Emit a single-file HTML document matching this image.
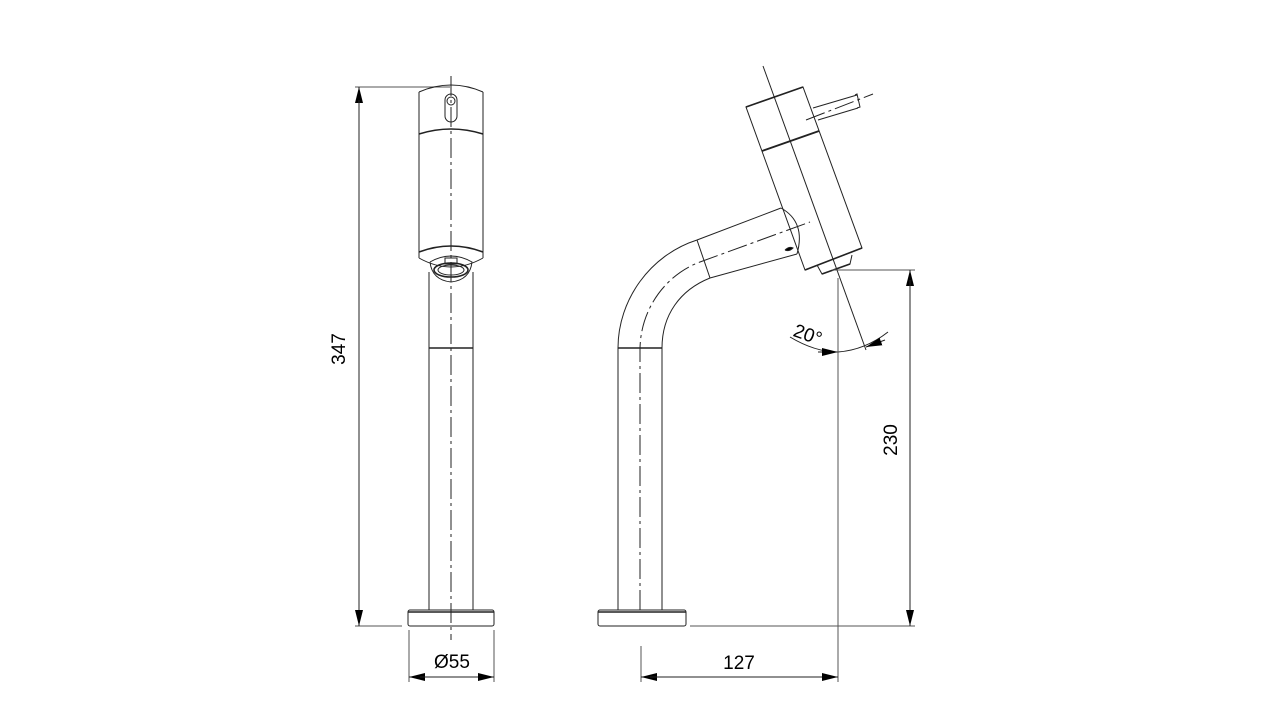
<!DOCTYPE html>
<html><head><meta charset="utf-8"><style>
html,body{margin:0;padding:0;background:#fff;}
svg{display:block;}
text{font-family:"Liberation Sans",Arial,sans-serif;fill:#000;}
</style></head><body>
<svg width="1280" height="720" viewBox="0 0 1280 720" xmlns="http://www.w3.org/2000/svg">
<defs>
<marker id="a" viewBox="0 0 16 8" refX="16" refY="4" markerWidth="16" markerHeight="8" markerUnits="userSpaceOnUse" orient="auto"><path d="M0,0 L16,4 L0,8 z" fill="#000"/></marker>
</defs>
<g fill="none" stroke="#222" stroke-width="1">
<line x1="355" y1="87" x2="450" y2="87" stroke="#555"/>
<line x1="355" y1="626" x2="402" y2="626" stroke="#555"/>
<line x1="359" y1="110" x2="359" y2="87" marker-end="url(#a)"/>
<line x1="359" y1="100" x2="359" y2="613"/>
<line x1="359" y1="605" x2="359" y2="626" marker-end="url(#a)"/>
<path d="M419,92 Q451,78 483,92"/>
<line x1="419" y1="92" x2="419" y2="258"/>
<line x1="483" y1="92" x2="483" y2="258"/>
<path d="M419,134 Q451,124 483,134" stroke-width="1.6"/>
<rect x="445" y="94" width="12" height="28" rx="6"/>
<ellipse cx="451" cy="101" rx="4" ry="4"/>
<path d="M419,252 Q451,240 483,252" stroke-width="1.6"/>
<path d="M419,258 Q451,276 483,258"/>
<path d="M419,252 L419,258"/><path d="M483,252 L483,258"/>
<path d="M430,262 Q451,250 472,262 Q470,280 451,282 Q432,280 430,262"/>
<ellipse cx="451" cy="270" rx="17" ry="7" stroke-width="1.6"/>
<ellipse cx="451" cy="270" rx="13" ry="5"/>
<rect x="445" y="258" width="12" height="6"/>
<line x1="429" y1="272" x2="429" y2="610"/>
<line x1="473" y1="272" x2="473" y2="610"/>
<line x1="429" y1="348" x2="473" y2="348" stroke-width="1.4"/>
<rect x="408" y="610" width="86" height="16" rx="2"/>
<line x1="408" y1="612" x2="494" y2="612" stroke-width="1.4"/>
<line x1="451" y1="76" x2="451" y2="640" stroke-dasharray="20,4,3,4"/>
<line x1="409" y1="630" x2="409" y2="682" stroke="#555"/>
<line x1="494" y1="630" x2="494" y2="682" stroke="#555"/>
<line x1="430" y1="677" x2="409" y2="677" marker-end="url(#a)"/>
<line x1="420" y1="677" x2="480" y2="677"/>
<line x1="473" y1="677" x2="494" y2="677" marker-end="url(#a)"/>

<line x1="618" y1="348" x2="618" y2="610"/>
<line x1="662" y1="348" x2="662" y2="610"/>
<line x1="618" y1="348" x2="662" y2="348" stroke-width="1.4"/>
<path d="M618,348 C618,300 650,255 697,240"/>
<path d="M662,348 C662,315 680,290 710,278"/>
<line x1="697" y1="240" x2="710" y2="278"/>
<line x1="697" y1="240" x2="781" y2="208"/>
<line x1="710" y1="278" x2="797" y2="254"/>
<path d="M781,208 Q806,222 797,254"/>
<path d="M785,250 q4,-4 8,-2 q-4,4 -8,2" fill="#000"/>
<path d="M640,610 L640,350 C640,310 665,275 700,262 L810,222" stroke-dasharray="20,4,3,4"/>
<path d="M746,107 L803,87 L862,248 L805,270 Z"/>
<line x1="746" y1="107" x2="803" y2="87" stroke-width="1.6"/>
<line x1="762" y1="151" x2="819" y2="131" stroke-width="1.8"/>
<line x1="805" y1="270" x2="862" y2="248" stroke-width="1.6"/>
<path d="M817,265 L822,274 L850,264 L852,255" />
<line x1="822" y1="274" x2="850" y2="264" stroke-width="1.6"/>
<line x1="813" y1="108" x2="857" y2="95"/>
<line x1="818" y1="120" x2="858" y2="108"/>
<path d="M855,95 L857,94 L860,107 L857,108"/>
<line x1="806" y1="120" x2="873" y2="94" stroke-dasharray="20,4,3,4"/>
<line x1="763" y1="66" x2="866" y2="350"/>
<rect x="598" y="610" width="88" height="16" rx="2"/>
<line x1="598" y1="612" x2="686" y2="612" stroke-width="1.4"/>
<path d="M790,337 Q815,352 838,352 Q865,350 888,332"/>
<line x1="818" y1="352" x2="838" y2="352" marker-end="url(#a)"/>
<line x1="885" y1="340" x2="866" y2="347" marker-end="url(#a)"/>
<line x1="838" y1="278" x2="838" y2="682" stroke="#555"/>
<line x1="832" y1="270" x2="915" y2="270" stroke="#555"/>
<line x1="690" y1="626" x2="915" y2="626" stroke="#555"/>
<line x1="910" y1="292" x2="910" y2="270" marker-end="url(#a)"/>
<line x1="910" y1="280" x2="910" y2="615"/>
<line x1="910" y1="605" x2="910" y2="626" marker-end="url(#a)"/>
<line x1="641" y1="646" x2="641" y2="682" stroke="#555"/>
<line x1="662" y1="677" x2="641" y2="677" marker-end="url(#a)"/>
<line x1="650" y1="677" x2="830" y2="677"/>
<line x1="817" y1="677" x2="838" y2="677" marker-end="url(#a)"/>
</g>
<text x="352" y="356" font-size="19" text-anchor="middle" transform="rotate(-90 345 356)">347</text>
<text x="904" y="447" font-size="19" text-anchor="middle" transform="rotate(-90 897 447)">230</text>
<text x="452" y="668" font-size="19" text-anchor="middle">Ø55</text>
<text x="739" y="669" font-size="19" text-anchor="middle">127</text>
<text x="808" y="341" font-size="19" text-anchor="middle" transform="rotate(20 808 334)">20°</text>
</svg>
</body></html>
